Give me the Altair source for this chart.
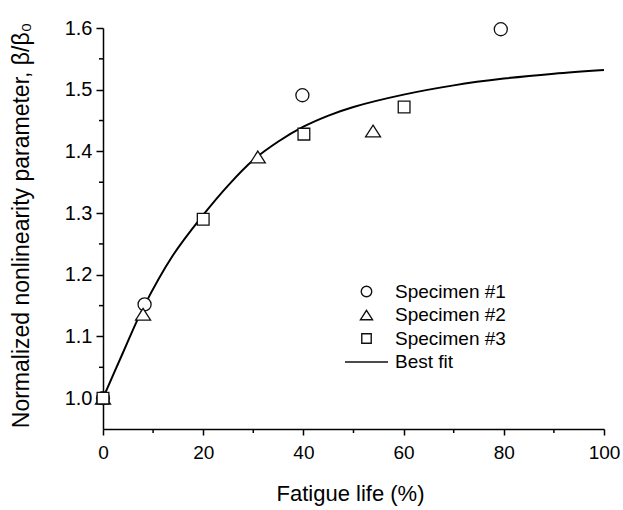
import altair as alt
import pandas as pd

# Best-fit curve, sampled along its length
fit_x = [0, 4, 8, 14, 20, 25, 30, 35, 40, 45, 50, 60, 70, 80, 90, 100]
fit_y = [1.000, 1.074, 1.146, 1.232, 1.297, 1.345, 1.386, 1.416, 1.440, 1.458,
         1.472, 1.492, 1.507, 1.518, 1.526, 1.532]

# Measured points per specimen
s1_x = [0, 8.3, 39.8, 79.4]
s1_y = [1.0, 1.152, 1.491, 1.598]
s2_x = [0, 8.0, 30.9, 53.9]
s2_y = [1.0, 1.136, 1.391, 1.433]
s3_x = [0, 20.0, 40.1, 60.1]
s3_y = [1.0, 1.290, 1.428, 1.472]

series_names = ["Specimen #1", "Specimen #2", "Specimen #3", "Best fit"]

x_ticks = [0, 20, 40, 60, 80, 100]
x_minor = [10, 30, 50, 70, 90]
y_ticks = [1.0, 1.1, 1.2, 1.3, 1.4, 1.5, 1.6]
y_minor = [1.05, 1.15, 1.25, 1.35, 1.45, 1.55]

FONT = "Liberation Sans"
X_TITLE = "Fatigue life (%)"
Y_TITLE = "Normalized nonlinearity parameter, \u03b2/\u03b2\u2080"

# Marker glyphs: open circle, wide triangle, slightly small square, and a
# long horizontal stroke for the fitted line's legend entry
SHAPES = [
    "circle",
    "M0,-0.9L1.15,0.9L-1.15,0.9Z",
    "M-0.9,-0.9L0.9,-0.9L0.9,0.9L-0.9,0.9Z",
    "M-4.1,0L4.1,0",
]

fit_df = pd.DataFrame({"x": fit_x, "y": fit_y})
pts_df = pd.concat([
    pd.DataFrame({"x": s1_x, "y": s1_y, "series": series_names[0]}),
    pd.DataFrame({"x": s2_x, "y": s2_y, "series": series_names[1]}),
    pd.DataFrame({"x": s3_x, "y": s3_y, "series": series_names[2]}),
], ignore_index=True)

x_scale = alt.Scale(domain=[0, 100], nice=False, zero=False)
y_scale = alt.Scale(domain=[0.95, 1.6], nice=False, zero=False)

x_axis = alt.Axis(values=x_ticks, format="d", tickSize=6, labelPadding=8,
                  labelFlush=False, labelOverlap=False,
                  titleX=247, titleY=71, titleBaseline="alphabetic",
                  titleAlign="center")
y_axis = alt.Axis(values=y_ticks, format=".1f", tickSize=7, labelPadding=4,
                  labelFlush=False, labelOverlap=False, labelFontSize=20,
                  titleX=-74.5, titleY=197, titleBaseline="alphabetic",
                  titleAlign="center", titleAngle=270, titleFontSize=23)


def enc_x():
    return alt.X("x:Q", scale=x_scale, axis=x_axis, title=X_TITLE)


def enc_y():
    return alt.Y("y:Q", scale=y_scale, axis=y_axis, title=Y_TITLE)


fit_line = alt.Chart(fit_df).mark_line(
    color="black", strokeWidth=2, interpolate="catmull-rom"
).encode(x=enc_x(), y=enc_y())

points = alt.Chart(pts_df).mark_point(
    filled=False, color="#111111", fill="white", strokeWidth=1.3,
    opacity=1, size=170
).encode(
    x=enc_x(),
    y=enc_y(),
    shape=alt.Shape(
        "series:N",
        scale=alt.Scale(domain=series_names, range=SHAPES),
        legend=alt.Legend(
            title=None, orient="none", legendX=254, legendY=254,
            padding=0, symbolSize=110, symbolStrokeWidth=1.4,
            labelFont=FONT, labelFontSize=19, labelColor="black",
            labelOffset=19, rowPadding=3.5,
        ),
    ),
)

minor_y = alt.Chart(pd.DataFrame({"y": y_minor})).mark_rule(
    color="black", strokeWidth=1.5
).encode(y=enc_y(), x=alt.value(-4), x2=alt.value(0))

minor_x = alt.Chart(pd.DataFrame({"x": x_minor})).mark_rule(
    color="black", strokeWidth=1.5
).encode(x=enc_x(), y=alt.value(401), y2=alt.value(405))

chart = alt.layer(fit_line, points, minor_y, minor_x).properties(
    width=501,
    height=401,
    autosize=alt.AutoSizeParams(type="none"),
    padding={"left": 103, "top": 28, "right": 19, "bottom": 81},
    background="white",
).configure_view(stroke=None).configure_axis(
    grid=False,
    domainColor="black", domainWidth=1.5,
    tickColor="black", tickWidth=1.5,
    labelFont=FONT, labelFontSize=19, labelColor="black",
    titleFont=FONT, titleFontSize=22, titleFontWeight="normal",
    titleColor="black",
)

chart.save("out.html", embed_options={"renderer": "svg", "actions": False})
